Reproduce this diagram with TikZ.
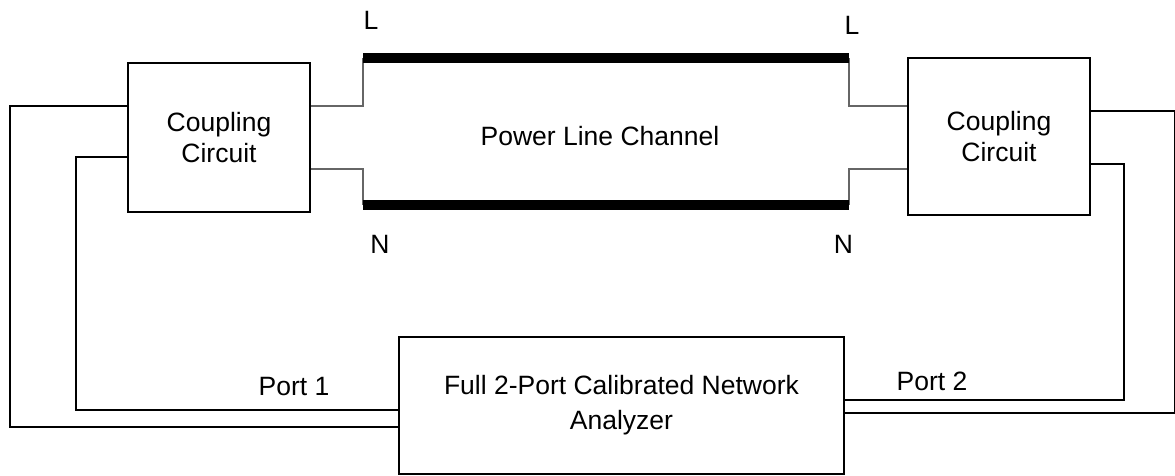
\documentclass[tikz,border=0pt]{standalone}
\usepackage{fontspec}
\setmainfont{Liberation Sans}
\begin{document}
\begin{tikzpicture}[x=1pt,y=-1pt,
  box/.style={draw, line width=2pt, inner sep=0pt, align=center},
  txt/.style={font=\fontsize{26.5}{31}\selectfont},
  wire/.style={line width=2pt},
  lead/.style={line width=2pt, draw=black!60},
  bar/.style={line width=10pt},
  lbl/.style={inner sep=0pt, font=\fontsize{26.5}{31}\selectfont}]
\useasboundingbox (0,0) rectangle (1175,475);
% boxes
\node[box, txt, minimum width=182pt, minimum height=149pt] (cc1) at (219,137.5) {Coupling\\Circuit};
\node[box, txt, minimum width=182pt, minimum height=157pt] (cc2) at (999,136.5) {Coupling\\Circuit};
\node[box, font=\fontsize{26.5}{35}\selectfont, minimum width=445pt, minimum height=137pt] (na) at (621.5,405.5) {Full 2-Port Calibrated Network\\Analyzer};
\node[lbl] (plc) at (600,136) {Power Line Channel};
% bar ends
\coordinate (Ltl) at (363,58);
\coordinate (Ltr) at (849,58);
\coordinate (Nbl) at (363,205);
\coordinate (Nbr) at (849,205);
% leads
\draw[lead] ([yshift=31.5pt]cc1.east) -| (Ltl);
\draw[lead] ([yshift=-31.5pt]cc1.east) -| (Nbl);
\draw[lead] ([yshift=30.5pt]cc2.west) -| (Ltr);
\draw[lead] ([yshift=-32.5pt]cc2.west) -| (Nbr);
% bars
\draw[bar] (Ltl) -- (Ltr);
\draw[bar] (Nbl) -- (Nbr);
% wires
\draw[wire] ([yshift=31.5pt]cc1.west) -- ++(-117,0) |- ([yshift=-21.5pt]na.west);
\draw[wire] ([yshift=-19.5pt]cc1.west) -- ++(-51,0) |- ([yshift=-4.5pt]na.west);
\draw[wire] ([yshift=25.5pt]cc2.east) -- ++(84,0) |- ([yshift=-7.5pt]na.east);
\draw[wire] ([yshift=-27.5pt]cc2.east) -- ++(33,0) |- ([yshift=5.5pt]na.east);
% labels
\node[lbl] (L1) at (371,20) {L};
\node[lbl] (L2) at (852,25) {L};
\node[lbl] (N1) at (380,244) {N};
\node[lbl] (N2) at (843.5,244) {N};
\node[lbl] (p1) at (294,387) {Port 1};
\node[lbl] (p2) at (932,381) {Port 2};
\end{tikzpicture}
\end{document}
